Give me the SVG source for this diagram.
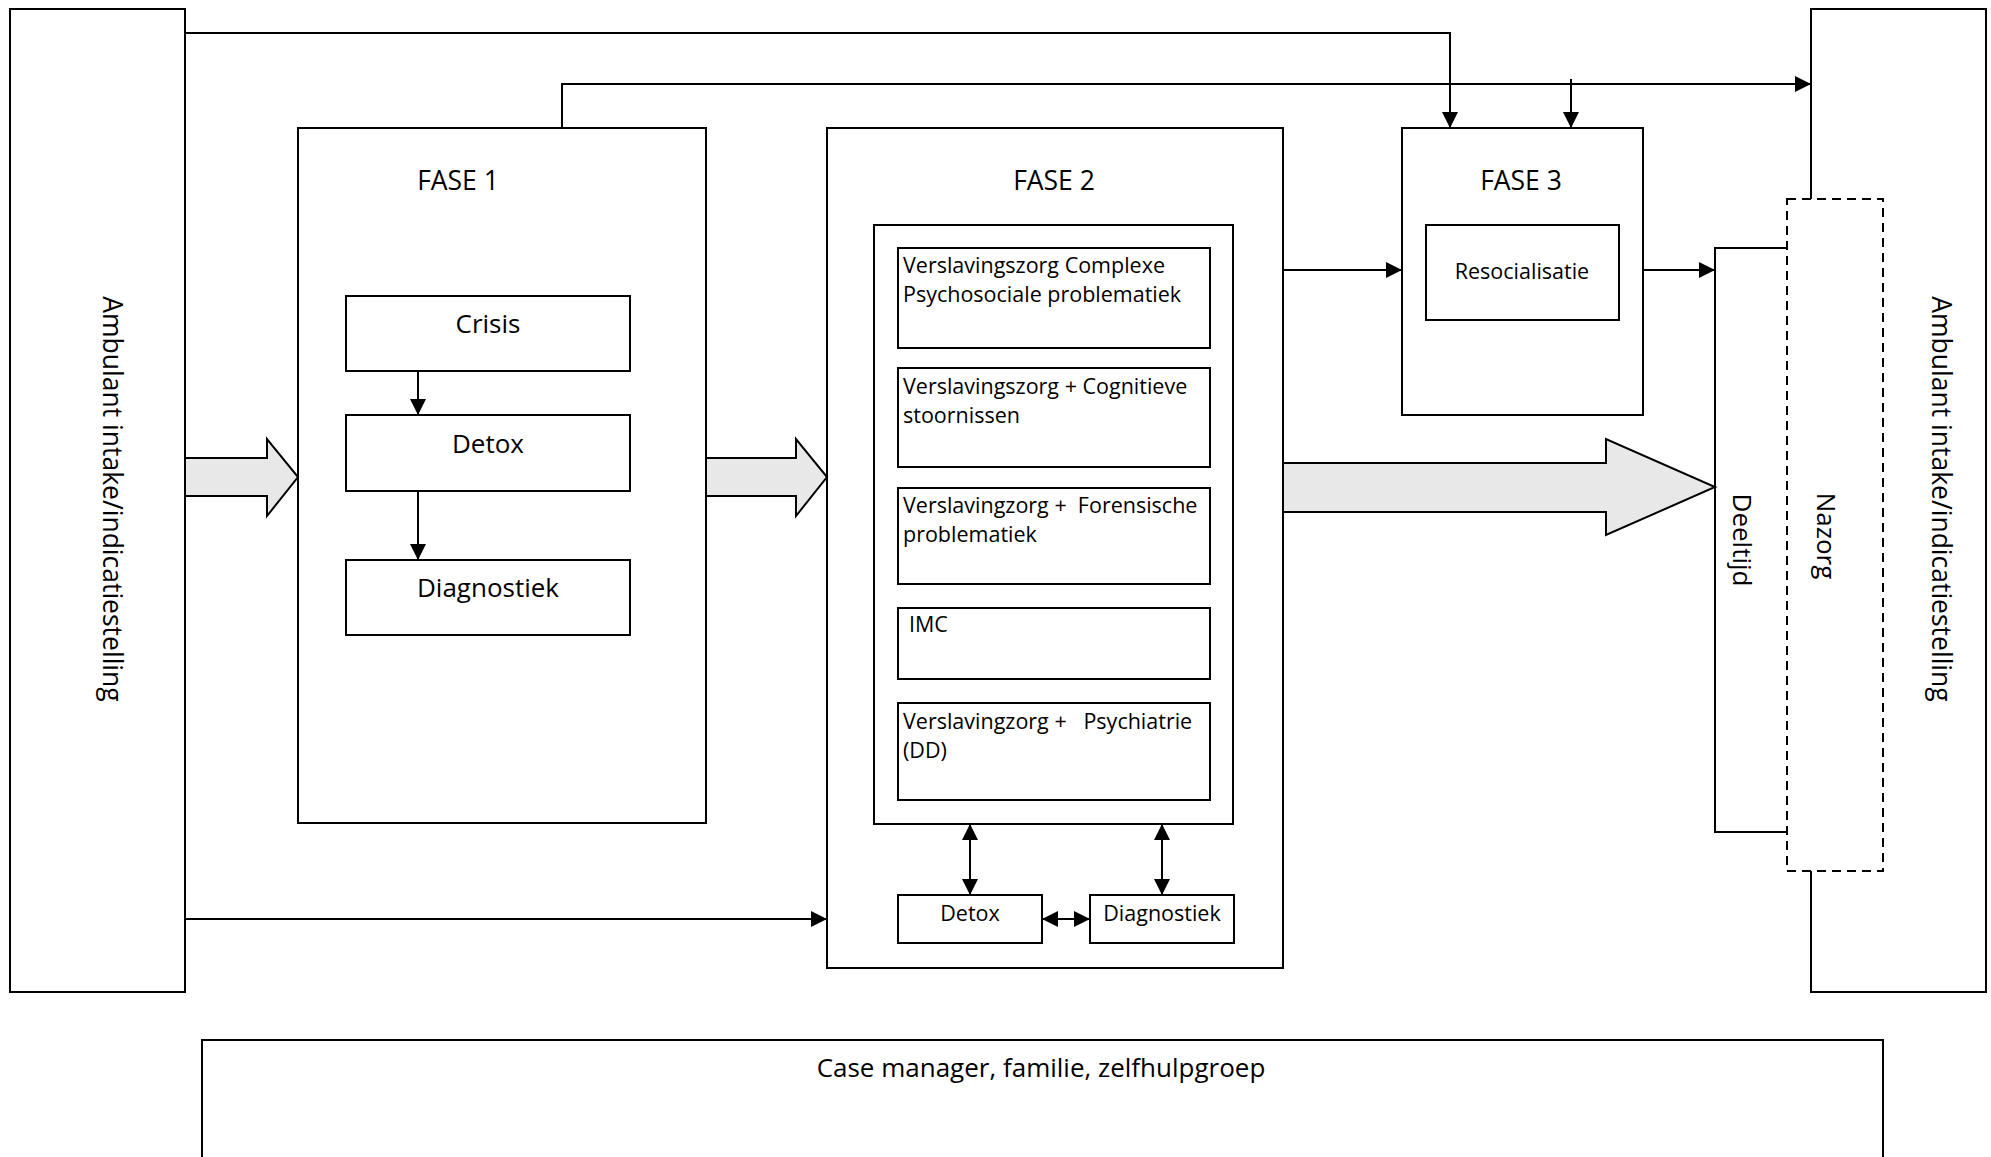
<svg xmlns="http://www.w3.org/2000/svg" width="1991" height="1157" viewBox="0 0 1991 1157">
<style>
.box{fill:#fff;stroke:#000;stroke-width:2}
.ln{fill:none;stroke:#000;stroke-width:2}
.blk{fill:#e8e8e8;stroke:#000;stroke-width:2;stroke-linejoin:miter}
.dash{fill:#fff;stroke:#000;stroke-width:2;stroke-dasharray:9 6}
text{font-family:"Open Sans","Noto Sans","Liberation Sans",sans-serif;fill:#000}
.t26{font-size:26px;text-anchor:middle}
.tf{font-size:26.5px;text-anchor:middle}
.t20{font-size:21.5px}
.t21c{font-size:21.5px;text-anchor:middle}
.t24{font-size:26px;text-anchor:middle}
.tr{font-size:26.5px;text-anchor:middle}
</style>
<defs>
<marker id="ah" markerUnits="userSpaceOnUse" markerWidth="16" markerHeight="16" refX="14" refY="7" orient="auto-start-reverse" viewBox="0 0 14 14">
<path d="M0,0 L14,7 L0,14 z" fill="#000"/>
</marker>
</defs>

<g id="left-intake">
<rect class="box" x="10" y="9" width="175" height="983"/>
<text class="tr" transform="translate(103,499) rotate(90)">Ambulant intake/indicatiestelling</text>
</g>

<g id="right-intake">
<rect class="box" x="1811" y="9" width="175" height="983"/>
<text class="tr" transform="translate(1932,499) rotate(90)">Ambulant intake/indicatiestelling</text>
</g>

<g id="deeltijd">
<path class="ln" d="M1787,248 H1715 V832 H1787"/>
<text class="t24" transform="translate(1733,540) rotate(90)">Deeltijd</text>
</g>

<g id="nazorg">
<rect class="dash" x="1787" y="199" width="96" height="672"/>
<text class="t24" transform="translate(1817,536) rotate(90)">Nazorg</text>
</g>

<g id="fase1">
<rect class="box" x="298" y="128" width="408" height="695"/>
<text class="tf" x="458" y="190">FASE 1</text>
</g>
<g id="crisis">
<rect class="box" x="346" y="296" width="284" height="75"/>
<text class="t26" x="488" y="333">Crisis</text>
</g>
<g id="detox1">
<rect class="box" x="346" y="415" width="284" height="76"/>
<text class="t26" x="488" y="453">Detox</text>
</g>
<g id="diagnostiek1">
<rect class="box" x="346" y="560" width="284" height="75"/>
<text class="t26" x="488" y="597">Diagnostiek</text>
</g>

<g id="fase2">
<rect class="box" x="827" y="128" width="456" height="840"/>
<text class="tf" x="1054" y="190">FASE 2</text>
<rect class="box" x="874" y="225" width="359" height="599"/>
</g>
<g id="vz-complex">
<rect class="box" x="898" y="248" width="312" height="100"/>
<text class="t20" x="903" y="273">Verslavingszorg Complexe</text>
<text class="t20" x="903" y="302">Psychosociale problematiek</text>
</g>
<g id="vz-cognitief">
<rect class="box" x="898" y="368" width="312" height="99"/>
<text class="t20" x="903" y="394">Verslavingszorg + Cognitieve</text>
<text class="t20" x="903" y="423">stoornissen</text>
</g>
<g id="vz-forensisch">
<rect class="box" x="898" y="488" width="312" height="96"/>
<text class="t20" x="903" y="513" xml:space="preserve">Verslavingzorg +  Forensische</text>
<text class="t20" x="903" y="542">problematiek</text>
</g>
<g id="imc">
<rect class="box" x="898" y="608" width="312" height="71"/>
<text class="t20" x="909" y="632">IMC</text>
</g>
<g id="vz-psychiatrie">
<rect class="box" x="898" y="703" width="312" height="97"/>
<text class="t20" x="903" y="729" xml:space="preserve">Verslavingzorg +   Psychiatrie</text>
<text class="t20" x="903" y="758">(DD)</text>
</g>
<g id="detox2">
<rect class="box" x="898" y="895" width="144" height="48"/>
<text class="t21c" x="970" y="921">Detox</text>
</g>
<g id="diagnostiek2">
<rect class="box" x="1090" y="895" width="144" height="48"/>
<text class="t21c" x="1162" y="921">Diagnostiek</text>
</g>

<g id="fase3">
<rect class="box" x="1402" y="128" width="241" height="287"/>
<text class="tf" x="1521" y="190">FASE 3</text>
</g>
<g id="resocialisatie">
<rect class="box" x="1426" y="225" width="193" height="95"/>
<text class="t21c" x="1522" y="279">Resocialisatie</text>
</g>

<g id="support">
<rect class="box" x="202" y="1040" width="1681" height="140"/>
<text class="t24" x="1041" y="1077">Case manager, familie, zelfhulpgroep</text>
</g>

<g id="connectors">
<polygon class="blk" points="185,458 267,458 267,439 298,477 267,516 267,496 185,496"/>
<polygon class="blk" points="706,458 796,458 796,439 827,477 796,516 796,496 706,496"/>
<polygon class="blk" points="1283,463 1606,463 1606,439 1715,487 1606,535 1606,512 1283,512"/>
<path class="ln" d="M185,33 H1450 V128" marker-end="url(#ah)"/>
<path class="ln" d="M562,128 V84 H1811" marker-end="url(#ah)"/>
<path class="ln" d="M1571,79 V128" marker-end="url(#ah)"/>
<path class="ln" d="M418,371 V415" marker-end="url(#ah)"/>
<path class="ln" d="M418,491 V560" marker-end="url(#ah)"/>
<path class="ln" d="M1283,270 H1402" marker-end="url(#ah)"/>
<path class="ln" d="M1643,270 H1715" marker-end="url(#ah)"/>
<path class="ln" d="M185,919 H827" marker-end="url(#ah)"/>
<path class="ln" d="M970,824 V895" marker-start="url(#ah)" marker-end="url(#ah)"/>
<path class="ln" d="M1162,824 V895" marker-start="url(#ah)" marker-end="url(#ah)"/>
<path class="ln" d="M1042,919 H1090" marker-start="url(#ah)" marker-end="url(#ah)"/>
</g>
</svg>
